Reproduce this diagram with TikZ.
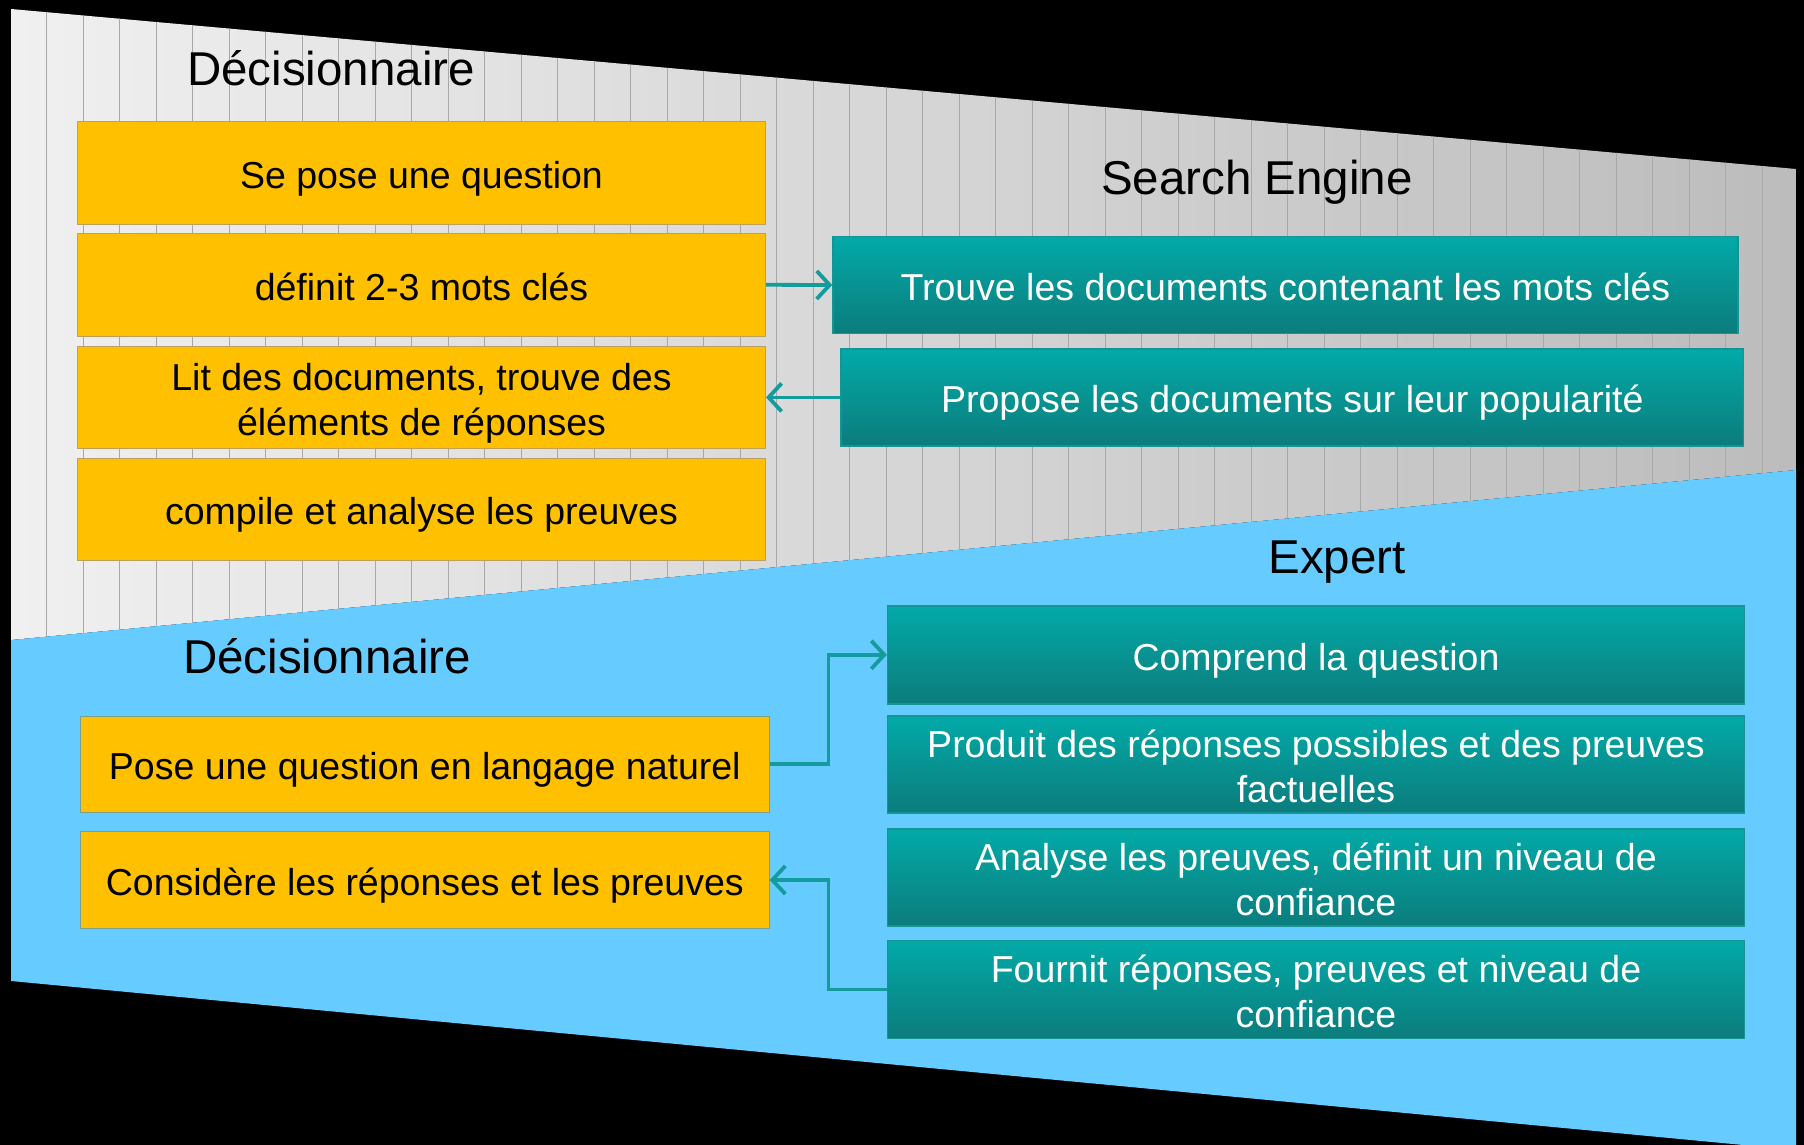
\documentclass[tikz,border=0pt]{standalone}
\usepackage{fontspec}
\setmainfont{Liberation Sans}
\usetikzlibrary{arrows.meta}
\definecolor{ygold}{RGB}{255,192,0}
\definecolor{yedge}{RGB}{190,160,90}
\definecolor{yedgeb}{RGB}{120,160,140}
\definecolor{tealtop}{RGB}{2,170,168}
\definecolor{tealmid}{RGB}{8,150,150}
\definecolor{tealbot}{RGB}{12,124,124}
\definecolor{tedge}{RGB}{22,148,148}
\definecolor{skyb}{RGB}{102,204,255}
\definecolor{arrowc}{RGB}{20,155,155}
\definecolor{greyL}{RGB}{240,240,240}
\definecolor{greyR}{RGB}{188,188,188}
\definecolor{stripec}{RGB}{168,168,168}
\newcommand{\lnstrut}{\rule[-0.212em]{0pt}{1.25em}}
\newcommand{\topstrut}{\rule{0pt}{1.038em}}
\newcommand{\botstrut}{\rule[-0.212em]{0pt}{0.212em}}
\tikzset{
  ybox/.style={draw=yedge, line width=1pt, fill=ygold, inner sep=0pt, align=center,
    font=\fontsize{37.5}{45}\selectfont, text=black},
  tbox/.style={draw=tedge, line width=1.5pt, top color=tealtop, middle color=tealmid, bottom color=tealbot,
    inner sep=0pt, align=center, font=\fontsize{37.5}{45}\selectfont, text=white},
  ttl/.style={font=\fontsize{47.5}{57}\selectfont, text=black, inner sep=0pt},
  conn/.style={draw=arrowc, line width=3.8pt,
    -{Straight Barb[length=13pt,width=28pt,line width=3.8pt]}}
}
\begin{document}
\begin{tikzpicture}[x=1pt,y=-1pt]
\useasboundingbox (0,0) rectangle (1804,1145);
\fill[black] (0,0) rectangle (1804,1145);
% grey panel
\path[left color=greyL, right color=greyR] (11,9) -- (1796,169) -- (1796,470) -- (11,640) -- cycle;
\begin{scope}
  \clip (11,9) -- (1796,169) -- (1796,470) -- (11,640) -- cycle;
  \foreach \i in {1,...,49} {
    \draw[stripec, line width=1pt] ({10.3+36.5*\i},0) -- ({10.3+36.5*\i},700);
  }
\end{scope}
% blue panel
\fill[skyb] (11,640) -- (1796,470) -- (1796,1150) -- (11,981) -- cycle;

% titles
\node[ttl] (tdec1) at (331,68) {Décisionnaire};
\node[ttl] (tse) at (1257,182) {Search Engine};
\node[ttl] (texp) at (1337,562) {Expert};
\node[ttl] (tdec2) at (327,656) {Décisionnaire};

% top yellow boxes
\node[ybox, minimum width=688pt, minimum height=102.8pt] (y1) at (421.5,172.9) {\lnstrut Se pose une question};
\node[ybox, minimum width=688pt, minimum height=102.8pt] (y2) at (421.5,284.8) {\lnstrut définit 2-3 mots clés};
\node[ybox, minimum width=688pt, minimum height=101.6pt] (y3) at (421.5,397.4) {\topstrut Lit des documents, trouve des\\\botstrut éléments de réponses};
\node[ybox, minimum width=688pt, minimum height=102.4pt] (y4) at (421.5,509.3) {\lnstrut compile et analyse les preuves};

% top teal boxes
\node[tbox, minimum width=904.7pt, minimum height=97.4pt] (t1) at (1285.4,285) {\lnstrut Trouve les documents contenant les mots clés};
\node[tbox, minimum width=902.5pt, minimum height=96.7pt] (t2) at (1292.3,397.4) {\lnstrut Propose les documents sur leur popularité};

% bottom yellow boxes
\node[ybox, draw=yedgeb, minimum width=688.8pt, minimum height=96pt] (yb1) at (424.8,764.2) {\lnstrut Pose une question en langage naturel};
\node[ybox, draw=yedgeb, minimum width=688.8pt, minimum height=96.8pt] (yb2) at (424.8,880) {\lnstrut Considère les réponses et les preuves};

% bottom teal boxes
\node[tbox, minimum width=856.7pt, minimum height=98pt] (tb1) at (1316,654.8) {\lnstrut Comprend la question};
\node[tbox, minimum width=856.7pt, minimum height=97.2pt] (tb2) at (1316,764.4) {\topstrut Produit des réponses possibles et des preuves\\\botstrut factuelles};
\node[tbox, minimum width=856.7pt, minimum height=97.2pt] (tb3) at (1316,877.5) {\topstrut Analyse les preuves, définit un niveau de\\\botstrut confiance};
\node[tbox, minimum width=856.7pt, minimum height=98pt] (tb4) at (1316,989.5) {\topstrut Fournit réponses, preuves et niveau de\\\botstrut confiance};

% connectors
\coordinate (j1) at (828.4,764.2);
\coordinate (j2) at (828.4,989.5);
\draw[conn] (y2.east) -- (t1.west);
\draw[conn] (t2.west) -- (y3.east);
\draw[conn] (yb1.east) -- (j1) |- (tb1.west);
\draw[conn] (tb4.west) -- (j2) |- (yb2.east);
\end{tikzpicture}
\end{document}
